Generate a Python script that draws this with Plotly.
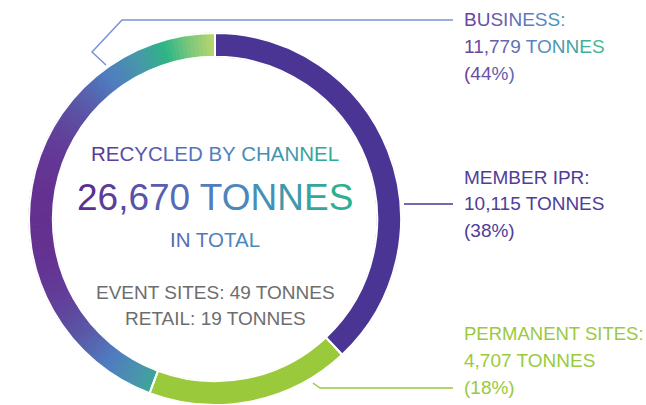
import html
import math
import plotly.graph_objects as go

# ---------------- data ----------------
channels = ["MEMBER IPR", "PERMANENT SITES", "BUSINESS"]
tonnes = [10115, 4707, 11779]
percent_labels = ["(38%)", "(18%)", "(44%)"]
tonnes_labels = ["10,115 TONNES", "4,707 TONNES", "11,779 TONNES"]
total_label = "26,670 TONNES"
minor_lines = ["EVENT SITES: 49 TONNES", "RETAIL: 19 TONNES"]

W, H = 646, 405
FONT = "Liberation Sans, Arial, sans-serif"

def px(x):
    return x / W

def py(y):
    return 1 - y / H

def hex2rgb(h):
    h = h.lstrip("#")
    return tuple(int(h[i:i + 2], 16) for i in (0, 2, 4))

def ramp(stops):
    def f(x):
        if x <= stops[0][0]:
            return stops[0][1]
        if x >= stops[-1][0]:
            return stops[-1][1]
        for (x0, c0), (x1, c1) in zip(stops, stops[1:]):
            if x0 <= x <= x1:
                t = (x - x0) / (x1 - x0)
                a, b = hex2rgb(c0), hex2rgb(c1)
                r = [round(a[i] + (b[i] - a[i]) * t) for i in range(3)]
                return "#%02x%02x%02x" % tuple(r)
    return f

CW = {c: w for c, w in zip("ABCDEFGHIJKLMNOPQRSTUVWXYZ",
      [.667, .667, .722, .722, .667, .611, .778, .722, .278, .5, .667, .556, .833,
       .722, .778, .667, .778, .722, .667, .611, .722, .667, .944, .667, .667, .611])}
CW.update({d: .556 for d in "0123456789"})
CW.update({" ": .278, ",": .278, ":": .278, "(": .333, ")": .333, "%": .889, ".": .278})

def text_width(s, size):
    return sum(CW.get(ch, .6) for ch in s) * size

def grad_text(s, x_left, size, fn):
    out, x = "", x_left
    for ch in s:
        w = CW.get(ch, .6) * size
        out += "<span style='color:%s'>%s</span>" % (fn(x + w / 2), html.escape(ch))
        x += w
    return out

# ---------------- donut ----------------
cx, cy, R = 215, 220, 187
dom = dict(x=[px(cx - R), px(cx + R)], y=[max(0, py(cy + R)), py(cy - R)])
ring_grad = ramp([(30, "#65298c"), (55, "#633a97"), (80, "#5a55a5"), (110, "#4f7cc0"),
                  (140, "#4798a9"), (166, "#2db585"), (190, "#7cc77c"), (213, "#b5d56e")])

# gradient underlay: the BUSINESS slice drawn as thin pieces coloured along x
N = 120
total = sum(tonnes)
vals = list(tonnes[:2])
cols = ["#4b3594", "#9aca3c"]
start = tonnes[0] + tonnes[1]
piece = tonnes[2] / N
for i in range(N):
    mid = (start + piece * (i + 0.5)) / total * 2 * math.pi
    xpos = cx + (R - 12) * math.sin(mid)
    vals.append(piece)
    cols.append(ring_grad(xpos))

fig = go.Figure()
fig.add_trace(go.Pie(
    values=vals, sort=False, direction="clockwise", rotation=0, hole=0.872,
    marker=dict(colors=cols, line=dict(color=cols, width=1)),
    textinfo="none", hoverinfo="skip", showlegend=False, domain=dom,
))
# the three channels: white separators on top
fig.add_trace(go.Pie(
    labels=channels, values=tonnes, sort=False, direction="clockwise", rotation=0, hole=0.872,
    marker=dict(colors=["rgba(0,0,0,0)"] * 3, line=dict(color="white", width=2)),
    textinfo="none", hoverinfo="label+value", showlegend=False, domain=dom,
))

ann = []

def add(text, x, y, size, color="#444", anchor="left"):
    ann.append(dict(text=text, x=px(x), y=py(y), xref="paper", yref="paper",
                    xanchor=anchor, yanchor="middle", showarrow=False,
                    font=dict(family=FONT, size=size, color=color)))

# center text with horizontal gradient
center_grad = ramp([(78, "#5c2a8e"), (150, "#5a5aae"), (220, "#4f82c0"),
                    (290, "#3f98ad"), (352, "#2bb58a")])
for s, y, size in [("RECYCLED BY CHANNEL", 154, 20.5), (total_label, 197, 37), ("IN TOTAL", 239, 20.5)]:
    wdt = text_width(s, size)
    add(grad_text(s, cx - wdt / 2, size, center_grad), cx, y, size, anchor="center")
for s, y in zip(minor_lines, [292, 318]):
    add(s, cx, y, 19, "#6d6d6d", anchor="center")

# right labels
LX = 462
biz_grad = ramp([(462, "#6a3f9d"), (500, "#6660ae"), (540, "#5a8ac4"),
                 (580, "#3fa9a0"), (615, "#55c585")])
biz = ["BUSINESS:", tonnes_labels[2], percent_labels[2]]
for s, y in zip(biz, [19, 46, 73]):
    add(grad_text(s, LX, 19, biz_grad), LX, y, 19)
for s, y in zip([channels[0] + ":", tonnes_labels[0], percent_labels[0]], [177, 203, 230]):
    add(s, LX, y, 19, "#4f3d98")
for s, y, fs in zip([channels[1] + ":", tonnes_labels[1], percent_labels[1]], [333, 360, 387], [18.5, 19, 19]):
    add(s, LX, y, fs, "#9aca3c")

def path(pts):
    return "M " + " L ".join("%f,%f" % (px(x), py(y)) for x, y in pts)

shapes = [
    dict(type="path", xref="paper", yref="paper", path=path([(453, 20), (122, 20), (92, 52), (106, 65)]),
         line=dict(color="#7b93d2", width=1.5)),
    dict(type="path", xref="paper", yref="paper", path=path([(404, 204), (453, 204)]),
         line=dict(color="#4b3594", width=1.5)),
    dict(type="path", xref="paper", yref="paper", path=path([(313, 383), (320, 388), (453, 388)]),
         line=dict(color="#9aca3c", width=1.5)),
]

fig.update_layout(width=W, height=H, margin=dict(l=0, r=0, t=0, b=0),
                  paper_bgcolor="white", plot_bgcolor="white",
                  annotations=ann, shapes=shapes)
fig.write_html("out.html", config={"displayModeBar": False},
               post_script="document.body.style.margin='0px';")
